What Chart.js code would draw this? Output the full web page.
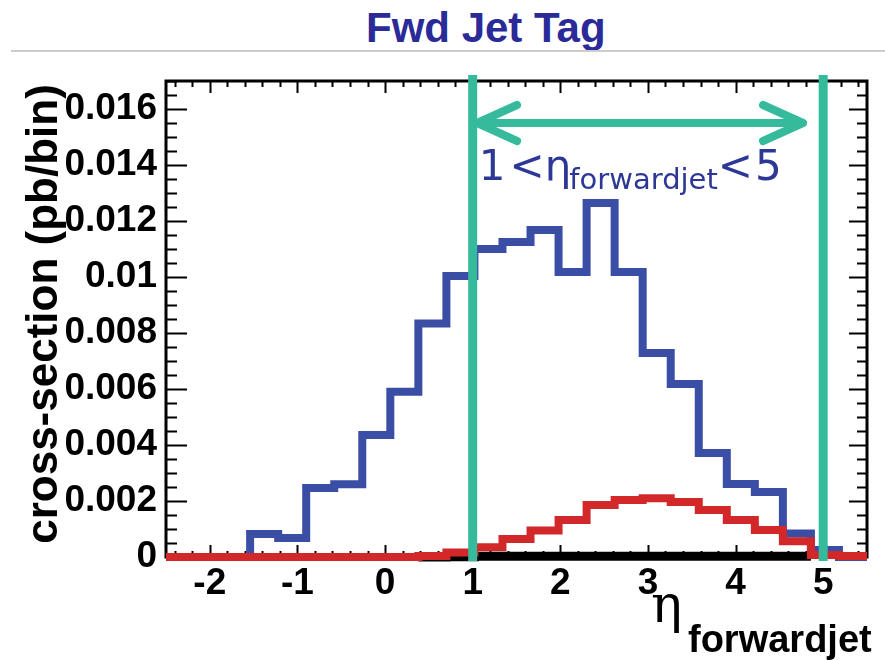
<!DOCTYPE html>
<html>
<head>
<meta charset="utf-8">
<title>Fwd Jet Tag</title>
<script src="https://cdn.jsdelivr.net/npm/chart.js@4.4.1/dist/chart.umd.min.js"></script>
<style>
  html, body { margin: 0; padding: 0; background: #fff; }
  #pagina { position: relative; width: 885px; height: 660px; overflow: hidden; }
  #titulo {
    position: absolute; left: 366px; top: 3px; margin: 0;
    font: bold 42px "Liberation Sans", Arial, sans-serif;
    line-height: 50px; color: #2a2a98; white-space: nowrap;
  }
  #regua { position: absolute; left: 11px; right: 0; top: 50px; height: 2px; background: #cdcdcd; }
  #grafico { position: absolute; left: 0; top: 0; }
</style>
</head>
<body>
<div id="pagina">
  <h1 id="titulo">Fwd Jet Tag</h1>
  <div id="regua"></div>
  <canvas id="grafico" width="885" height="660"></canvas>
</div>
<script>
// Bordas dos bins em eta (25 bins de -2.5 a 5.5)
const binEdges = [-2.5, -2.18, -1.86, -1.54, -1.22, -0.9, -0.58, -0.26, 0.06, 0.38, 0.7,
  1.02, 1.34, 1.66, 1.98, 2.3, 2.62, 2.94, 3.26, 3.58, 3.9, 4.22, 4.54, 4.86, 5.18, 5.5];

// Secao de choque por bin (pb/bin)
const sinalAzul = [0, 0, 0, 0.00082, 0.00068, 0.00246, 0.0026, 0.00436, 0.0059, 0.00834,
  0.01004, 0.0110, 0.01125, 0.01168, 0.01018, 0.01264, 0.01018, 0.00729, 0.00618, 0.00371,
  0.00261, 0.00232, 0.00084, 0.00025, 0];
const fundoVermelho = [0, 0, 0, 0, 0, 0, 0, 0, 0, 0.00004,
  0.00016, 0.00035, 0.00064, 0.00095, 0.00132, 0.00186, 0.00204, 0.0021, 0.00196, 0.00168,
  0.00132, 0.00096, 0.00056, 0.00007, 0.00004];
const fundoPreto = [null, null, null, null, null, null, null, null, null, 0,
  0.00001, 0.00003, 0.00003, 0.00003, 0.00003, 0.00003, 0.00003, 0.00003, 0.00003, 0.00003,
  0.00003, 0.00003, 0.00003, null, null];

// Eixos
const xTicks = [-2, -1, 0, 1, 2, 3, 4, 5];
const xTickLabels = ['-2', '-1', '0', '1', '2', '3', '4', '5'];
const yTicks = [0, 0.002, 0.004, 0.006, 0.008, 0.01, 0.012, 0.014, 0.016];
const yTickLabels = ['0', '0.002', '0.004', '0.006', '0.008', '0.01', '0.012', '0.014', '0.016'];

// Corte de aceitacao do jato forward
const corteMin = 1;
const corteMax = 5;
const setaY = 0.0155;
const setaDe = 1.05;
const setaAte = 4.77;
const textoCorteX = 1.07;
const textoCorteY = 0.01346;

const FONTE = '"Liberation Sans", Arial, sans-serif';
const FONTE_CORTE = '"DejaVu Sans", Verdana, sans-serif';
const TEAL = '#35bb9c';

// Monta o contorno em degraus: cada bin vira dois pontos (borda esquerda e direita)
function degraus(valores) {
  const pts = [];
  valores.forEach((v, i) => {
    if (v === null) {
      pts.push({ x: binEdges[i], y: null });
      return;
    }
    pts.push({ x: binEdges[i], y: v });
    pts.push({ x: binEdges[i + 1], y: v });
  });
  return pts;
}

function serie(valores, cor, largura) {
  return {
    data: degraus(valores),
    borderColor: cor,
    borderWidth: largura,
    borderJoinStyle: 'miter',
    borderCapStyle: 'butt',
    pointRadius: 0,
    fill: false,
    spanGaps: false,
    clip: false
  };
}

// Moldura estilo ROOT com marcas para dentro nos quatro lados
const molduraPlugin = {
  id: 'moldura',
  beforeDatasetsDraw(chart) {
    const { ctx, chartArea: a, scales: { x, y } } = chart;
    ctx.save();
    ctx.strokeStyle = '#000';
    ctx.lineWidth = 2;
    ctx.beginPath();
    for (let i = -12; i <= 27; i++) {
      const v = i * 0.2;
      if (v < -2.5 || v > 5.5) continue;
      const px = Math.round(x.getPixelForValue(v)) + 0.5;
      const maior = i % 5 === 0;
      const t = maior ? 12 : 6;
      ctx.moveTo(px, a.bottom); ctx.lineTo(px, a.bottom - t);
      ctx.moveTo(px, a.top); ctx.lineTo(px, a.top + t);
    }
    for (let i = 0; i <= 34; i++) {
      const v = i * 0.0005;
      const py = Math.round(y.getPixelForValue(v)) + 0.5;
      const maior = i % 4 === 0;
      ctx.moveTo(a.left, py); ctx.lineTo(a.left + (maior ? 21 : 11), py);
      ctx.moveTo(a.right, py); ctx.lineTo(a.right - (maior ? 18 : 10), py);
    }
    ctx.stroke();
    ctx.lineWidth = 3;
    ctx.strokeRect(a.left, a.top, a.right - a.left, a.bottom - a.top);
    ctx.restore();
  },
  afterDatasetsDraw(chart) {
    const { ctx, chartArea: a, scales: { x, y } } = chart;
    ctx.save();

    // linhas do corte
    ctx.strokeStyle = TEAL;
    ctx.lineWidth = 9;
    [corteMin, corteMax].forEach(v => {
      const px = x.getPixelForValue(v);
      ctx.beginPath();
      ctx.moveTo(px, a.top - 6);
      ctx.lineTo(px, a.bottom + 4);
      ctx.stroke();
    });

    // seta dupla
    const sy = y.getPixelForValue(setaY);
    const x1 = x.getPixelForValue(setaDe);
    const x2 = x.getPixelForValue(setaAte);
    ctx.lineWidth = 8;
    ctx.lineCap = 'round';
    ctx.lineJoin = 'round';
    ctx.beginPath();
    ctx.moveTo(x1, sy); ctx.lineTo(x2, sy);
    ctx.moveTo(x1 + 40, sy - 18); ctx.lineTo(x1, sy); ctx.lineTo(x1 + 40, sy + 18);
    ctx.moveTo(x2 - 40, sy - 18); ctx.lineTo(x2, sy); ctx.lineTo(x2 - 40, sy + 18);
    ctx.stroke();

    // texto 1<eta<5
    ctx.fillStyle = '#2d3896';
    ctx.textBaseline = 'alphabetic';
    ctx.textAlign = 'left';
    let cx = x.getPixelForValue(textoCorteX);
    const by = y.getPixelForValue(textoCorteY);
    const grande = '42px ' + FONTE_CORTE;
    const pequena = '29px ' + FONTE_CORTE;
    const pedacos = [
      ['1', grande, 0, 4], ['<', grande, 0, 0], ['\u03b7', grande, 0, -2],
      ['forwardjet', pequena, 9, 0], ['<', grande, 0, 2], ['5', grande, 0, 0]
    ];
    pedacos.forEach(([txt, f, dy, gap]) => {
      ctx.font = f;
      ctx.fillText(txt, cx, by + dy);
      cx += ctx.measureText(txt).width + gap;
    });

    // titulo do eixo x
    ctx.fillStyle = '#000';
    ctx.font = '52px "DejaVu Serif", serif';
    ctx.fillText('\u03b7', 651, 622);
    ctx.font = 'bold 38px ' + FONTE;
    ctx.fillText('forwardjet', 688, 652);

    // titulo do eixo y
    ctx.translate(45, 314);
    ctx.rotate(-Math.PI / 2);
    ctx.textAlign = 'center';
    ctx.textBaseline = 'middle';
    ctx.font = 'bold 44px ' + FONTE;
    ctx.fillText('cross-section (pb/bin)', 0, 0);
    ctx.restore();
  }
};

document.addEventListener('DOMContentLoaded', function() {
  Chart.defaults.font.family = FONTE;
  const ctx = document.getElementById('grafico').getContext('2d');

  const fonteTicks = { family: FONTE, size: 37, weight: 'bold' };

  new Chart(ctx, {
    type: 'line',
    data: {
      // o primeiro dataset fica por cima
      datasets: [
        serie(fundoVermelho, '#d3282a', 8),
        serie(sinalAzul, '#3a4ea6', 8),
        serie(fundoPreto, '#000000', 9)
      ]
    },
    options: {
      responsive: false,
      animation: false,
      layout: { padding: { top: 81, right: 18, bottom: 0, left: 0 } },
      plugins: { legend: { display: false }, tooltip: { enabled: false }, title: { display: false } },
      scales: {
        x: {
          type: 'linear', min: -2.5, max: 5.5,
          grid: { display: false, drawTicks: false },
          border: { display: false },
          afterBuildTicks: s => { s.ticks = xTicks.map(v => ({ value: v })); },
          afterFit: s => { s.height = 103; },
          ticks: {
            font: fonteTicks, color: '#000', padding: 5, maxRotation: 0, autoSkip: false,
            callback: (v, i) => xTickLabels[i]
          }
        },
        y: {
          min: 0, max: 0.017,
          grid: { display: false, drawTicks: false },
          border: { display: false },
          afterBuildTicks: s => { s.ticks = yTicks.map(v => ({ value: v })); },
          afterFit: s => { s.width = 166; },
          ticks: {
            font: fonteTicks, color: '#000', padding: 9, autoSkip: false,
            callback: (v, i) => yTickLabels[i]
          }
        }
      }
    },
    plugins: [molduraPlugin]
  });
});
</script>
</body>
</html>
